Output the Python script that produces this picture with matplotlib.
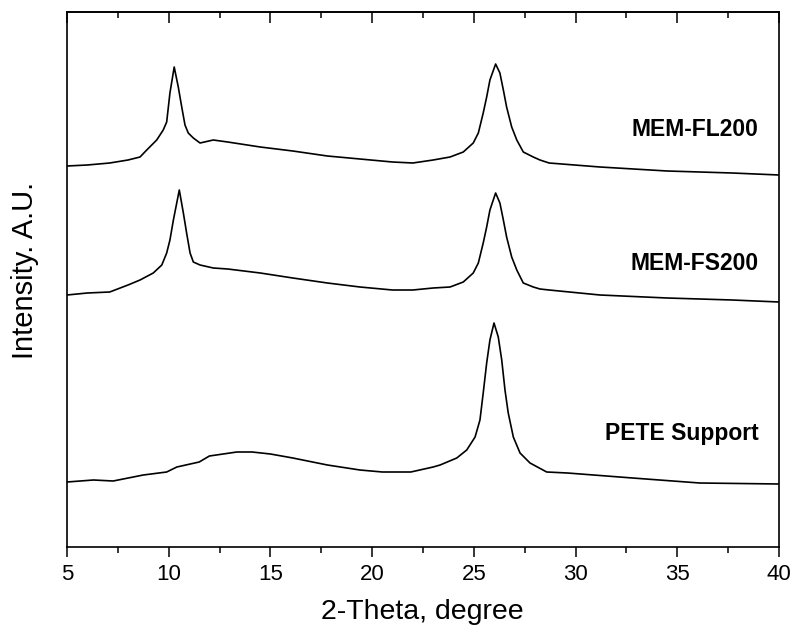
import matplotlib
matplotlib.use("Agg")
import matplotlib.pyplot as plt
from matplotlib.ticker import MultipleLocator

plt.rcParams['font.family'] = ['Liberation Sans', 'DejaVu Sans']

# XRD patterns, stacked with vertical offsets (arbitrary units)
tt_fl = [5.0, 6.0, 7.1, 8.0, 8.59, 8.92, 9.41, 9.73, 9.90, 10.06, 10.27, 10.47,
         10.64, 10.80, 10.96, 11.21, 11.54, 12.19, 12.9, 14.5, 16.1, 17.8, 19.4,
         21.0, 22.0, 23.0, 23.83, 24.48, 24.97, 25.22, 25.46, 25.63, 25.79, 26.07,
         26.28, 26.45, 26.61, 26.86, 27.11, 27.43, 27.92, 28.25, 28.7, 31.2, 34.5,
         37.7, 40.0]
int_fl = [381, 382, 384, 387, 390, 397, 407, 417, 425, 454, 480, 460,
          440, 422, 414, 409, 404, 407, 405, 400, 396, 391, 388,
          385, 384, 387, 390, 395, 404, 414, 434, 450, 467, 483,
          474, 457, 440, 420, 407, 395, 390, 387, 384, 380, 376,
          374, 372]

tt_fs = [5.0, 6.0, 7.1, 8.0, 8.59, 9.24, 9.66, 9.90, 10.06, 10.23, 10.52, 10.72,
         10.88, 11.05, 11.21, 11.54, 12.19, 12.9, 14.5, 16.1, 17.8, 19.4, 21.0,
         22.0, 23.0, 23.83, 24.48, 24.97, 25.22, 25.46, 25.63, 25.79, 26.07, 26.28,
         26.45, 26.61, 26.86, 27.11, 27.43, 27.92, 28.25, 28.7, 31.2, 34.5, 37.7,
         40.0]
int_fs = [252, 254, 255, 262, 267, 274, 282, 294, 307, 327, 357, 334,
          314, 294, 285, 282, 279, 278, 274, 269, 264, 260, 257,
          257, 259, 260, 265, 274, 284, 304, 320, 337, 354, 344,
          327, 310, 290, 277, 264, 260, 258, 257, 252, 249, 247,
          245]

tt_pete = [5.0, 6.3, 7.27, 8.75, 9.9, 10.4, 11.5, 12.0, 13.35, 14.1, 15.0, 16.1,
           17.8, 19.4, 20.5, 21.9, 23.0, 23.34, 24.16, 24.65, 25.06, 25.30, 25.46,
           25.63, 25.79, 25.99, 26.20, 26.37, 26.53, 26.69, 26.94, 27.27, 27.76,
           28.58, 29.6, 32.8, 36.1, 40.0]
int_pete = [65, 67, 66, 72, 75, 80, 85, 91, 95, 95, 93, 89,
            82, 77, 75, 75, 80, 82, 89, 97, 110, 127, 154,
            184, 207, 224, 210, 187, 157, 134, 110, 94, 84,
            75, 74, 69, 64, 63]

names = ['MEM-FL200', 'MEM-FS200', 'PETE Support']
label_y = [411, 277, 107]

fig = plt.figure(figsize=(7.92, 6.27), dpi=100)
ax = fig.add_axes([67/792, 1 - 547/627, 712/792, 535/627])

for tt, yy in [(tt_fl, int_fl), (tt_fs, int_fs), (tt_pete, int_pete)]:
    ax.plot(tt, yy, color='black', lw=1.2)

for name, ly in zip(names, label_y):
    ax.text(38.98, ly, name, ha='right', va='baseline', fontsize=16.5,
            fontweight='bold')

ax.set_xlim(5, 40)
ax.set_ylim(0, 535)
ax.xaxis.set_major_locator(MultipleLocator(5))
ax.xaxis.set_minor_locator(MultipleLocator(2.5))
ax.tick_params(axis='x', which='major', direction='out', length=7.5, width=1.1,
               labelsize=16, pad=5)
ax.tick_params(axis='x', which='minor', direction='out', length=4, width=1.1)
ax.tick_params(axis='y', left=False, labelleft=False)
for sp in ax.spines.values():
    sp.set_linewidth(1.2)

# top axis: inward ticks, no labels
top = ax.secondary_xaxis('top')
top.xaxis.set_major_locator(MultipleLocator(5))
top.xaxis.set_minor_locator(MultipleLocator(2.5))
top.tick_params(which='major', direction='in', length=8, width=1.1, labeltop=False)
top.tick_params(which='minor', direction='in', length=4, width=1.1)
top.spines['top'].set_linewidth(1.2)

ax.set_xlabel('2-Theta, degree', fontsize=20.5)
ax.xaxis.label.set_va('baseline')
ax.xaxis.set_label_coords(0.499, -0.134)
ax.set_ylabel('Intensity. A.U.', fontsize=21)
ax.yaxis.set_label_coords(-0.04, 0.517)

fig.savefig('out.png', dpi=100)
